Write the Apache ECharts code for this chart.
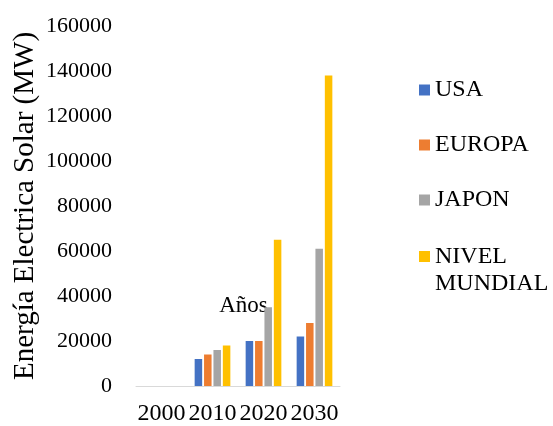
<!DOCTYPE html>
<html>
<head>
<meta charset="utf-8">
<script src="https://cdn.jsdelivr.net/npm/echarts@6/dist/echarts.min.js"></script>
<style>
  html, body { margin: 0; padding: 0; background: #fff; }
  #chart { width: 553px; height: 426px; }
</style>
</head>
<body>
<div id="chart"></div>
<script>
const years = ['2000', '2010', '2020', '2030']
const usa = [0, 12000, 20000, 22000]
const europa = [0, 14000, 20000, 28000]
const japon = [0, 16000, 35000, 61000]
const mundial = [0, 18000, 65000, 138000]
const seriesNames = ['USA', 'EUROPA', 'JAPON', 'NIVEL MUNDIAL']
const colors = ['#4472C4', '#ED7D31', '#A5A5A5', '#FFC000']

const serif = "'Liberation Serif', 'Times New Roman', serif"
const chart = echarts.init(document.getElementById('chart'))

const makeBar = (name, data, color) => ({
  name,
  type: 'bar',
  data,
  itemStyle: { color },
  barGap: '25%',
  barCategoryGap: '30%',
})

const legendBase = {
  orient: 'vertical',
  left: 419,
  padding: 0,
  itemWidth: 11,
  itemHeight: 11,
  itemGap: 31,
  icon: 'rect',
  textStyle: { fontFamily: serif, fontSize: 24, color: '#000' },
}

chart.setOption({
  animation: false,
  textStyle: { fontFamily: serif, color: '#000' },
  grid: { left: 136, right: 213, top: 26, bottom: 37 },
  legend: [
    { ...legendBase, top: 78, data: seriesNames.slice(0, 3) },
    {
      // blank first line keeps the icon level with "NIVEL"
      ...legendBase,
      top: 216,
      data: seriesNames.slice(3),
      formatter: (name) => '\n' + name.replace(' ', '\n'),
      textStyle: { fontFamily: serif, fontSize: 24, color: '#000', lineHeight: 27 },
    },
  ],
  xAxis: {
    type: 'category',
    data: years,
    name: 'Años',
    nameLocation: 'middle',
    nameGap: -92,
    nameTextStyle: { fontFamily: serif, fontSize: 23, color: '#000', padding: [0, 0, 0, 11] },
    axisLine: { lineStyle: { color: '#D9D9D9', width: 1 } },
    axisTick: { length: 6, lineStyle: { color: '#D9D9D9' } },
    axisLabel: { interval: 0, margin: 16, fontFamily: serif, fontSize: 24, color: '#000' },
  },
  yAxis: {
    type: 'value',
    min: 0,
    max: 160000,
    interval: 20000,
    name: 'Energía Electrica Solar (MW)',
    nameLocation: 'middle',
    nameGap: 96,
    nameTextStyle: { fontFamily: serif, fontSize: 29, color: '#000' },
    axisLine: { show: false },
    axisTick: { show: false },
    splitLine: { show: false },
    axisLabel: {
      margin: 24,
      fontFamily: serif,
      fontSize: 22,
      color: '#000',
      formatter: (value) => String(value),
    },
  },
  series: [
    makeBar(seriesNames[0], usa, colors[0]),
    makeBar(seriesNames[1], europa, colors[1]),
    makeBar(seriesNames[2], japon, colors[2]),
    makeBar(seriesNames[3], mundial, colors[3]),
  ],
})
</script>
</body>
</html>
